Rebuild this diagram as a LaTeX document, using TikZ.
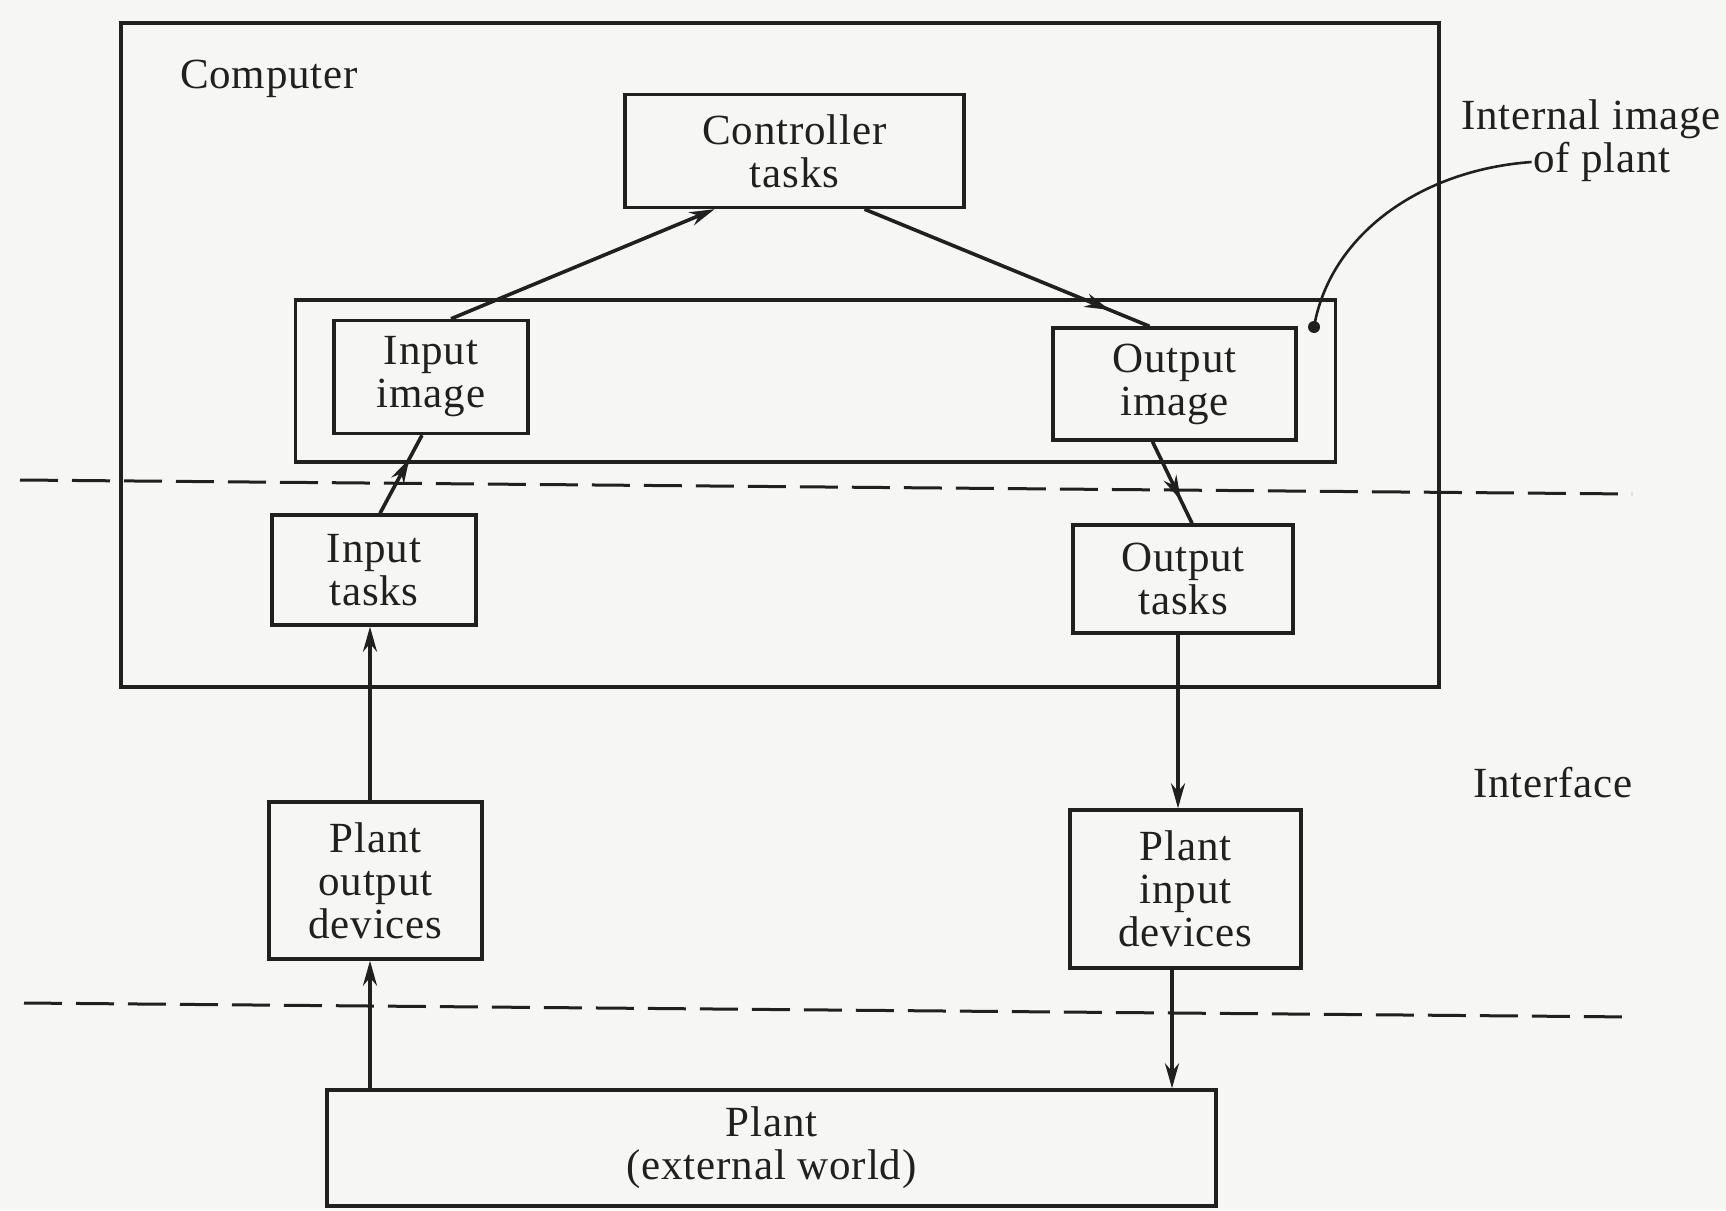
\documentclass[tikz,border=0pt]{standalone}
\usepackage{fontspec}
\setmainfont[LetterSpace=2]{Liberation Serif}
\usetikzlibrary{arrows.meta,decorations.markings}
\definecolor{ink}{RGB}{32,32,32}
\definecolor{paper}{RGB}{246,246,244}
\begin{document}
\begin{tikzpicture}[x=1pt,y=-1pt,
  every node/.style={text=ink,font=\fontsize{43}{43}\selectfont},
  blk/.style={draw=ink,line width=3.4pt,align=center,inner sep=0pt},
  tip/.style={-{Stealth[length=25pt,width=14pt]}},
  link/.style={draw=ink,line width=3.6pt,tip},
  % arrowhead placed part-way along the connector
  midlink/.style={draw=ink,line width=3.6pt,postaction={decorate},
    decoration={markings,mark=at position #1 with {\arrow{Stealth[length=25pt,width=14pt]}}}},
  divider/.style={draw=ink,line width=3pt,dash pattern=on 38pt off 14pt}]
  % page
  \fill[paper] (0,0) rectangle (1726,1210);
  \useasboundingbox (0,0) rectangle (1726,1210);

  % computer enclosure and internal image frame
  \node[blk,minimum width=1318pt,minimum height=664pt] (computer) at (780,355) {};
  \node[blk,minimum width=1040pt,minimum height=162pt] (frame) at (815.5,381) {};
  \node (complabel) at (269,79) {Computer};

  % blocks
  \node[blk,minimum width=339pt,minimum height=113pt] (ctrl) at (794.5,151) {Controller\\tasks};
  \node[blk,minimum width=194pt,minimum height=113pt] (inimg) at (431,377) {Input\\image};
  \node[blk,minimum width=243pt,minimum height=112pt] (outimg) at (1174.5,384) {Output\\image};
  \node[blk,minimum width=204pt,minimum height=110pt] (intask) at (374,570) {Input\\tasks};
  \node[blk,minimum width=220pt,minimum height=108pt] (outtask) at (1183,579) {Output\\tasks};
  \node[blk,minimum width=213pt,minimum height=157pt] (podev) at (375.5,880.5) {Plant\\output\\devices};
  \node[blk,minimum width=231pt,minimum height=158pt] (pidev) at (1185.5,889) {Plant\\input\\devices};
  \node[blk,minimum width=889pt,minimum height=116pt] (plant) at (771.5,1148) {Plant\\(external world)};

  % side labels
  \node (ann1) at (1591,119) {Internal image};
  \node (ann2) at (1602,162) {of plant};
  \node (iface) at (1553,783) {Interface};

  % boundaries between computer, interface and plant
  \coordinate (d1a) at (20,480);
  \coordinate (d1b) at (1632,494);
  \coordinate (d2a) at (24,1003);
  \coordinate (d2b) at (1635,1017);
  \draw[divider] (d1a) -- (d1b);
  \draw[divider] (d2a) -- (d2b);

  % data flow
  \draw[link] ([xshift=20pt]inimg.north) -- ([xshift=-80pt]ctrl.south);
  \draw[midlink=0.86] ([xshift=70pt]ctrl.south) -- ([xshift=-25pt]outimg.north);
  \draw[midlink=0.70] ([xshift=6pt]intask.north) -- ([xshift=-9pt]inimg.south);
  \draw[midlink=0.72] ([xshift=-22pt]outimg.south) -- ([xshift=9pt]outtask.north);
  \draw[link] (podev.north -| 370,0) -- (intask.south -| 370,0);
  \draw[link] (outtask.south -| 1178,0) -- (pidev.north -| 1178,0);
  \draw[link] (plant.north -| 370,0) -- (podev.south -| 370,0);
  \draw[link] (pidev.south -| 1172,0) -- (plant.north -| 1172,0);

  % pointer to the internal image frame
  \coordinate (dot) at (1314,327);
  \draw[ink,line width=2.6pt] ([xshift=2pt]ann2.west) .. controls (1420,170) and (1330,235) .. (dot);
  \fill[ink] (dot) circle (6pt);
\end{tikzpicture}
\end{document}
